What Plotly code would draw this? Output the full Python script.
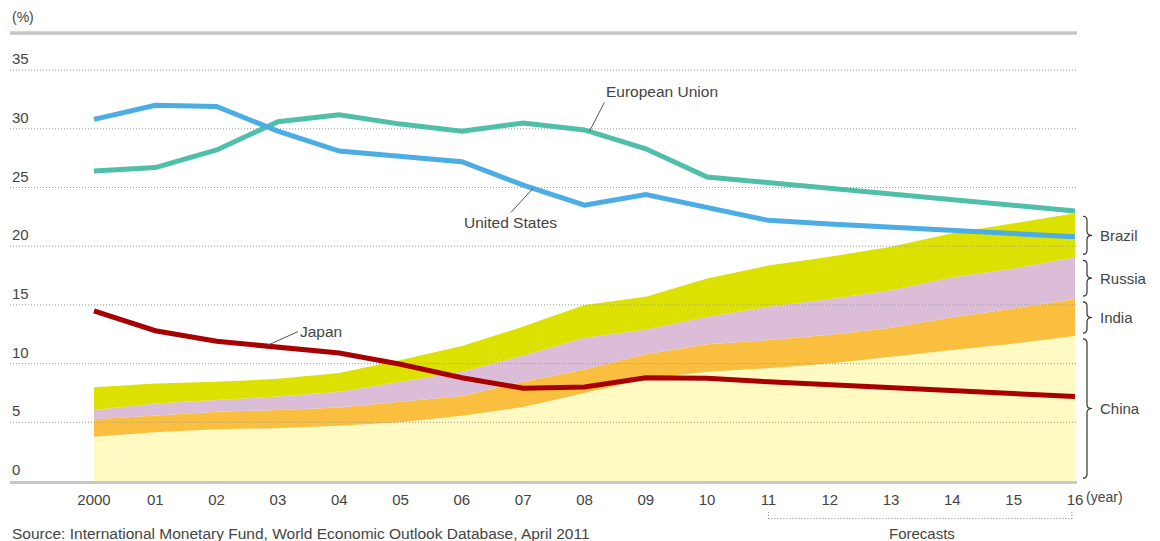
import numpy as np
import plotly.graph_objects as go

# share of world GDP (%), 2011-16 are IMF forecasts
years = list(range(2000, 2017))
year_labels = ["2000", "01", "02", "03", "04", "05", "06", "07", "08",
               "09", "10", "11", "12", "13", "14", "15", "16"]

us = [30.8, 32.0, 31.9, 29.8, 28.1, 27.7, 27.2, 25.2, 23.5,
      24.4, 23.3, 22.2, 21.9, 21.6, 21.3, 21.1, 20.8]
eu = [26.4, 26.7, 28.2, 30.6, 31.2, 30.4, 29.8, 30.5, 29.9,
      28.3, 25.9, 25.4, 24.9, 24.4, 23.9, 23.4, 23.0]
japan = [14.5, 12.8, 11.9, 11.45, 10.9, 9.95, 8.8, 7.9, 8.0,
         8.8, 8.75, 8.45, 8.2, 7.9, 7.65, 7.45, 7.2]

china = [3.77, 4.15, 4.4, 4.5, 4.7, 5.0, 5.55, 6.3, 7.5,
         8.7, 9.3, 9.6, 10.0, 10.6, 11.15, 11.7, 12.35]
india = [1.48, 1.45, 1.5, 1.55, 1.55, 1.75, 1.7, 2.15, 2.0,
         2.1, 2.35, 2.4, 2.45, 2.45, 2.8, 3.0, 3.15]
russia = [0.8, 1.0, 1.0, 1.15, 1.35, 1.7, 2.05, 2.25, 2.7,
          2.1, 2.35, 2.85, 3.05, 3.2, 3.4, 3.4, 3.55]
brazil = [1.93, 1.7, 1.55, 1.5, 1.6, 1.85, 2.2, 2.45, 2.8,
          2.8, 3.25, 3.5, 3.6, 3.7, 3.75, 3.85, 3.75]

y_ticks = [0, 5, 10, 15, 20, 25, 30, 35]

TXT = "#444444"
FONT = "Liberation Sans"
X_LO, X_HI = 1998.63, 2016.033
Y_HI = 38.16

fig = go.Figure()

# stacked BRIC areas
for name, vals, col in [("China", china, "#fff9c2"), ("India", india, "#fabf3e"),
                        ("Russia", russia, "#dbbdd8"), ("Brazil", brazil, "#dce100")]:
    fig.add_trace(go.Scatter(x=years, y=vals, name=name, stackgroup="bric",
                             mode="lines", line=dict(width=0), fillcolor=col))

# dotted grid, over the areas but under the lines
gx, gy = [], []
for v in y_ticks[1:]:
    gx += [X_LO, X_HI, None]
    gy += [v, v, None]
fig.add_trace(go.Scatter(x=gx, y=gy, mode="lines", hoverinfo="skip",
                         line=dict(color="#999999", width=1, dash="1px,2px")))

for name, vals, col in [("European Union", eu, "#4fbfa9"), ("United States", us, "#4badE3"),
                        ("Japan", japan, "#a80000")]:
    fig.add_trace(go.Scatter(x=years, y=vals, name=name, mode="lines",
                             line=dict(color=col, width=5)))

ann = []
# line labels with leader lines
for text, series, hx, ax, ay, xa, ya in [
        ("European Union", eu, 2008.08, 15, -29, "left", "bottom"),
        ("United States", us, 2007.16, -22, 24, "center", "top"),
        ("Japan", japan, 2002.82, 31, -14, "left", "middle")]:
    ann.append(dict(x=hx, y=float(np.interp(hx, years, series)), text=text,
                    showarrow=True, arrowhead=0, arrowwidth=1, arrowcolor="#555555",
                    ax=ax, ay=ay, xanchor=xa, yanchor=ya,
                    font=dict(size=15.5, color=TXT)))

# y tick labels sitting on top of grid lines
for v in y_ticks:
    ann.append(dict(x=0, xref="paper", y=v, yref="y", text=str(v), showarrow=False,
                    xanchor="left", yanchor="bottom", yshift=1,
                    font=dict(size=15, color=TXT)))

ann.append(dict(x=0, xref="paper", y=1.036, yref="paper", text="(%)", showarrow=False,
                xanchor="left", yanchor="middle", font=dict(size=14, color=TXT)))
ann.append(dict(x=1.0066, xref="paper", y=-0.036, yref="paper", text="(year)",
                showarrow=False, xanchor="left", yanchor="middle",
                font=dict(size=14, color=TXT)))
ann.append(dict(x=2013.5, xref="x", y=-0.118, yref="paper", text="Forecasts",
                showarrow=False, xanchor="center", yanchor="middle",
                font=dict(size=15, color=TXT)))
ann.append(dict(x=0, xref="paper", y=-0.118, yref="paper",
                text="Source: International Monetary Fund, World Economic Outlook Database, April 2011",
                showarrow=False, xanchor="left", yanchor="middle",
                font=dict(size=15.5, color=TXT)))

shapes = []
# braces on the right for the stacked countries (ends of 2016)
tops = np.cumsum([china[-1], india[-1], russia[-1], brazil[-1]])
bottoms = np.concatenate([[0], tops[:-1]])
x0, x1, x2 = 1.00562, 1.00937, 1.01406
d, gap = 0.35, 0.25
for name, lo, hi in zip(["China", "India", "Russia", "Brazil"], bottoms, tops):
    t, b = hi - gap, lo + gap
    m = (t + b) / 2
    path = (f"M {x0},{t} Q {x1},{t} {x1},{t - d} L {x1},{m + d} "
            f"Q {x1},{m} {x2},{m} Q {x1},{m} {x1},{m - d} "
            f"L {x1},{b + d} Q {x1},{b} {x0},{b}")
    shapes.append(dict(type="path", path=path, xref="paper", yref="y",
                       line=dict(color="#333333", width=1.2)))
    ann.append(dict(x=1.0197, xref="paper", y=m, yref="y", text=name, showarrow=False,
                    xanchor="left", yanchor="middle", font=dict(size=15, color=TXT)))

# top rule
shapes.append(dict(type="line", xref="paper", yref="paper", x0=0, x1=1, y0=1, y1=1,
                   line=dict(color="#c6c6c6", width=3.5)))
# forecasts bracket
fdot = dict(color="#777777", width=1, dash="1px,2px")
shapes.append(dict(type="line", xref="x", yref="paper", x0=2011, x1=2015.95,
                   y0=-0.084, y1=-0.084, line=fdot))
for fx in [2011, 2015.95]:
    shapes.append(dict(type="line", xref="x", yref="paper", x0=fx, x1=fx,
                       y0=-0.069, y1=-0.085, line=fdot))

fig.update_layout(
    width=1160, height=541,
    margin=dict(l=10, r=83, t=33, b=60),
    paper_bgcolor="white", plot_bgcolor="white",
    showlegend=False,
    font=dict(family=FONT, color=TXT),
    annotations=ann, shapes=shapes,
    xaxis=dict(range=[X_LO, X_HI], tickvals=years, ticktext=year_labels,
               showgrid=False, zeroline=False, showline=True, linecolor="#c8c8c8",
               linewidth=3, ticks="", ticklabelstandoff=3,
               tickfont=dict(size=15, color=TXT)),
    yaxis=dict(range=[0, Y_HI], showgrid=False, zeroline=False,
               showticklabels=False, ticks=""),
)

fig.write_html("out.html", config={"displayModeBar": False},
               post_script="document.body.style.margin='0';")
